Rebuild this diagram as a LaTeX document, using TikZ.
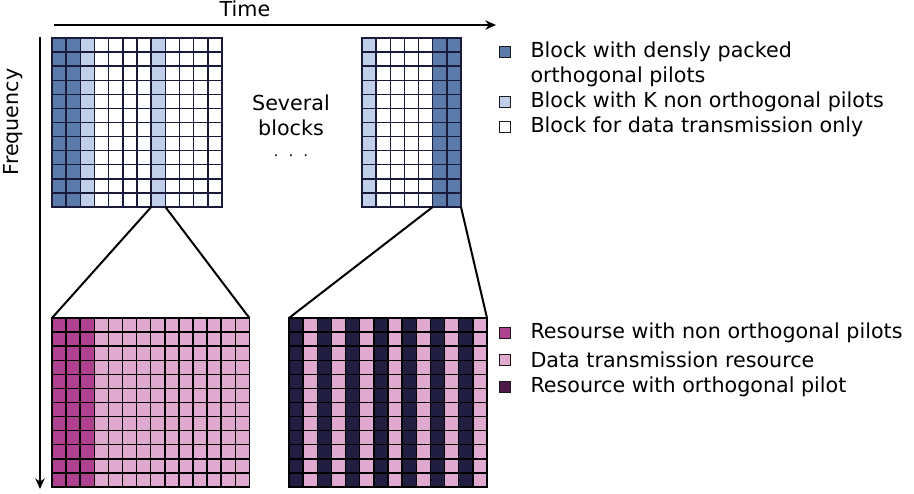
\documentclass[tikz,border=0pt]{standalone}
\usepackage{fontspec}
\setmainfont{DejaVu Sans}
\usetikzlibrary{arrows.meta}

\definecolor{pilotdense}{RGB}{91,123,170}
\definecolor{pilotlight}{RGB}{192,208,234}
\definecolor{gridline}{RGB}{26,26,58}
\definecolor{resnonorth}{RGB}{176,64,144}
\definecolor{resdata}{RGB}{224,170,208}
\definecolor{resorth}{RGB}{34,30,66}
\definecolor{legorth}{RGB}{78,24,72}

\tikzset{every picture/.style={line width=0.75pt}}
\tikzset{
	topcell/.style={draw=gridline, line width=1.1pt},
	botcell/.style={draw=black, line width=1.1pt},
	zoomline/.style={draw=black, line width=1.5pt},
	axisarrow/.style={draw=black, line width=1.2pt, -{Stealth[length=8pt,width=7pt]}},
	legbox/.style={draw=black!90, line width=0.9pt, minimum size=8.6pt, inner sep=0pt},
	legtext/.style={anchor=west, inner sep=0pt, font=\fontsize{15.5}{18}\selectfont},
	lbl/.style={font=\fontsize{15.5}{18.75}\selectfont}
}

\begin{document}
\begin{tikzpicture}[x=0.75pt,y=0.75pt,yscale=-1,xscale=1]
	\useasboundingbox (0,0) rectangle (914,493);

	%Shape: Axis Time
	\coordinate (timeA) at (54,25);
	\coordinate (timeB) at (496,25);
	\draw [axisarrow] (timeA) -- (timeB);
	%Shape: Axis Frequency
	\coordinate (freqA) at (40,37);
	\coordinate (freqB) at (40,489);
	\draw [axisarrow] (freqA) -- (freqB);

	%Shape: Grid top left (12 x 12)
	\foreach \col [count=\i from 0] in {pilotdense,pilotdense,pilotlight,white,white,white,white,pilotlight,white,white,white,white}
		\foreach \r in {0,...,11}
			\draw [topcell, fill=\col] ({52+\i*14.17},{38+\r*14.08}) rectangle ++(14.17,14.08);
	%Shape: Grid top right (7 x 12)
	\foreach \col [count=\i from 0] in {pilotlight,white,white,white,white,pilotdense,pilotdense}
		\foreach \r in {0,...,11}
			\draw [topcell, fill=\col] ({362+\i*14.14},{38+\r*14.08}) rectangle ++(14.14,14.08);

	%Shape: Grid bottom left (14 x 12)
	\foreach \col [count=\i from 0] in {resnonorth,resnonorth,resnonorth,resdata,resdata,resdata,resdata,resdata,resdata,resdata,resdata,resdata,resdata,resdata}
		\foreach \r in {0,...,11}
			\draw [botcell, fill=\col] ({52+\i*14.1},{318+\r*14.08}) rectangle ++(14.1,14.08);
	%Shape: Grid bottom right (14 x 12)
	\foreach \i in {0,...,13}{
		\pgfmathsetmacro{\shade}{ifthenelse(mod(\i,2)==0,"resorth","resdata")}
		\foreach \r in {0,...,11}
			\draw [botcell, fill=\shade] ({289+\i*14.14},{318+\r*14.08}) rectangle ++(14.14,14.08);
	}
	\draw [line width=1.8pt] (289,318) rectangle ++(14.14,14.08);

	%Shape: Zoom lines
	\coordinate (tlPilotL) at (151.2,207);
	\coordinate (tlPilotR) at (165.4,207);
	\coordinate (blTopL) at (52,318);
	\coordinate (blTopR) at (249.4,318);
	\coordinate (trDenseL) at (432.7,207);
	\coordinate (trDenseR) at (461,207);
	\coordinate (brTopL) at (289,318);
	\coordinate (brTopR) at (487,318);
	\draw [zoomline] (tlPilotL) -- (blTopL);
	\draw [zoomline] (tlPilotR) -- (blTopR);
	\draw [zoomline] (trDenseL) -- (brTopL);
	\draw [zoomline] (trDenseR) -- (brTopR);

	% Text Node
	\node [lbl] (timelbl) at (245,9) {Time};
	% Text Node
	\node [lbl, rotate=90] (freqlbl) at (13,122) {Frequency};
	% Text Node
	\node [lbl, align=center, inner sep=0pt, anchor=north] (severallbl) at (291,94) {Several\\blocks\\[0pt]$\cdot\;\cdot\;\cdot$};

	% Legend top
	\node [legbox, fill=pilotdense] (legA) at (505,52) {};
	\node [legtext] (legAtxt) at (530,52) {Block with densly packed};
	\node [legtext] (legAtxtb) at (530,77) {orthogonal pilots};
	\node [legbox, fill=pilotlight] (legB) at (505,102) {};
	\node [legtext] (legBtxt) at (530,102) {Block with K non orthogonal pilots};
	\node [legbox, fill=white] (legC) at (505,127) {};
	\node [legtext] (legCtxt) at (530,127) {Block for data transmission only};

	% Legend bottom
	\node [legbox, fill=resnonorth] (legD) at (505,333) {};
	\node [legtext] (legDtxt) at (530,333) {Resourse with non orthogonal pilots};
	\node [legbox, fill=resdata] (legE) at (505,360) {};
	\node [legtext] (legEtxt) at (530,360) {Data transmission resource};
	\node [legbox, fill=legorth] (legF) at (505,387) {};
	\node [legtext] (legFtxt) at (530,387) {Resource with orthogonal pilot};

\end{tikzpicture}
\end{document}
